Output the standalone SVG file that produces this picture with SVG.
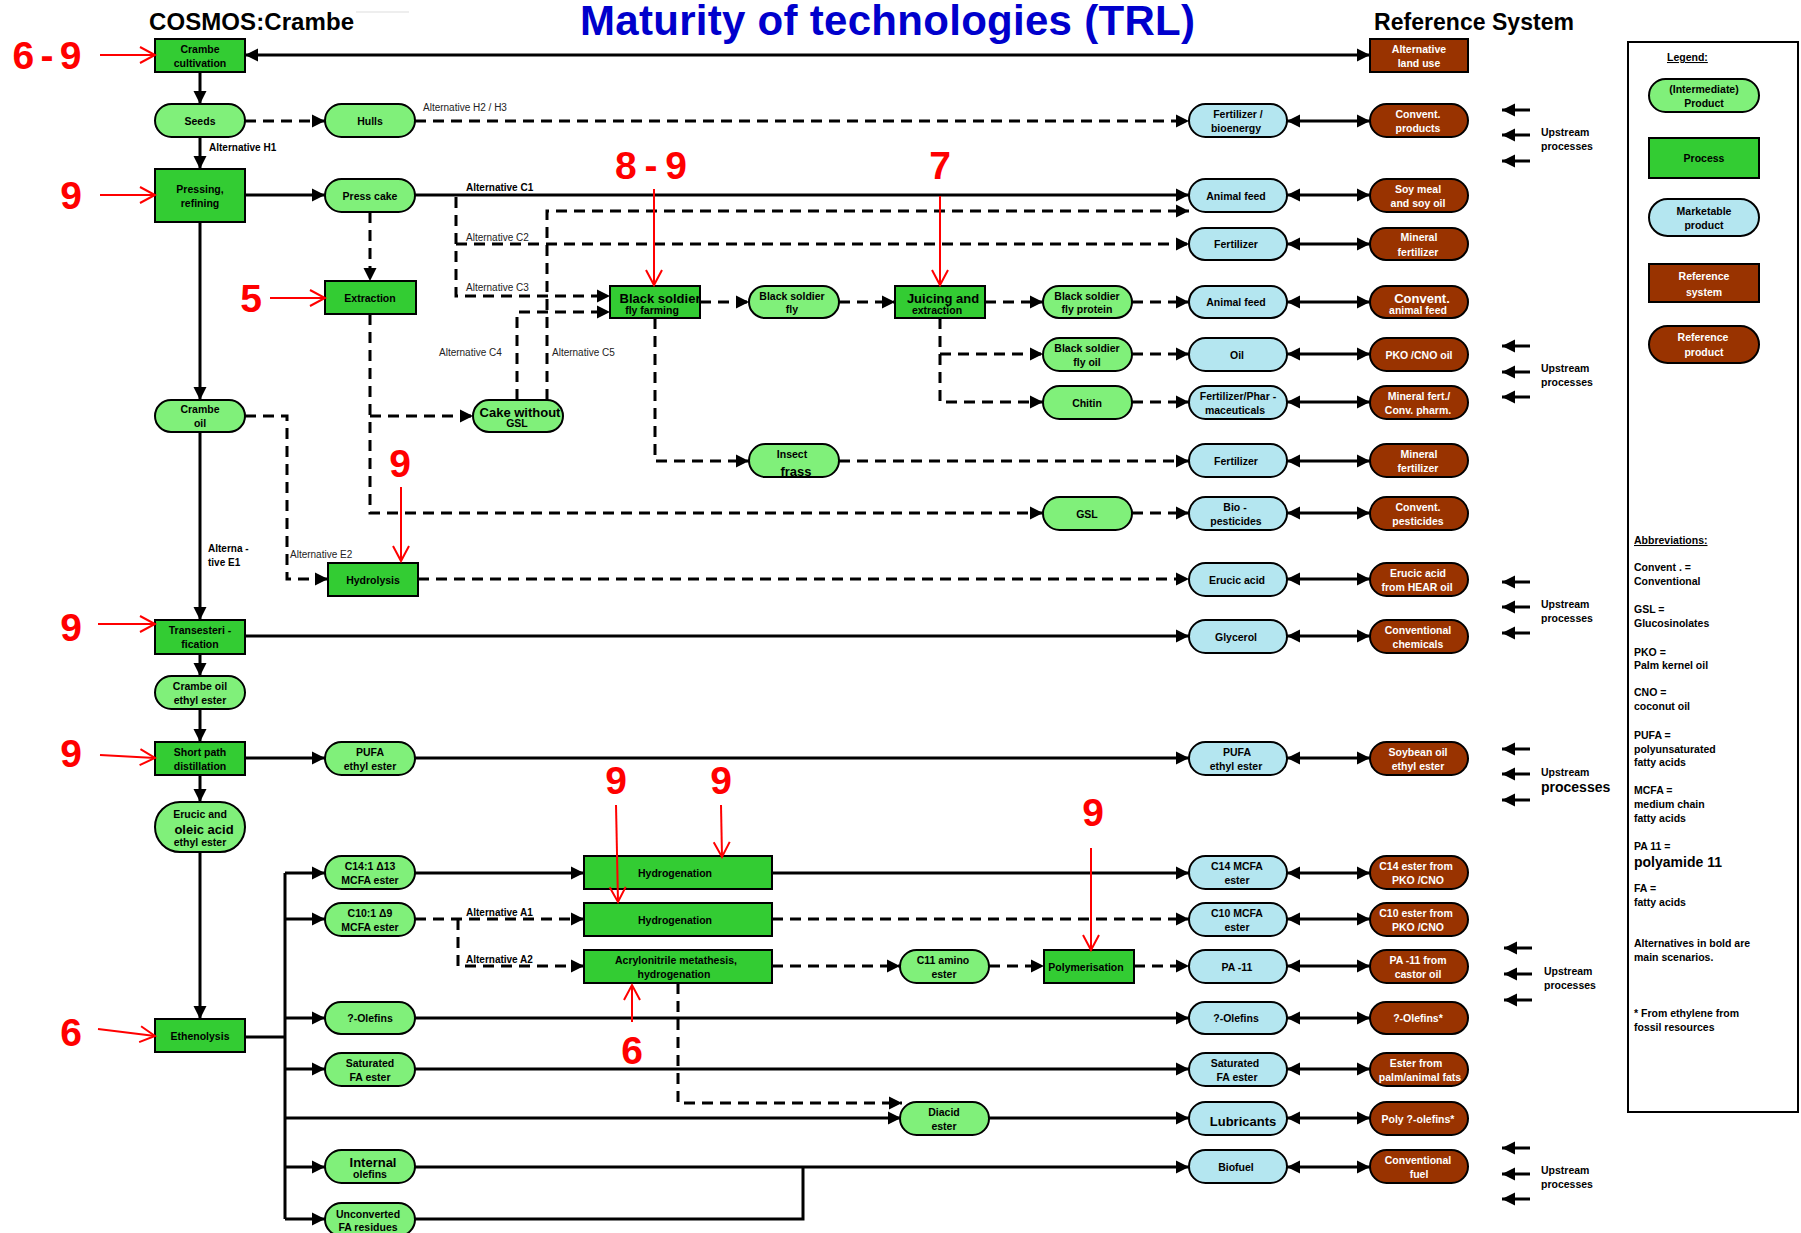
<svg xmlns="http://www.w3.org/2000/svg" width="1801" height="1233" viewBox="0 0 1801 1233">
<style>
.proc{fill:#33CC33;stroke:#000;stroke-width:2}
.prod{fill:#80F07A;stroke:#000;stroke-width:2}
.mkt{fill:#B4E6F0;stroke:#000;stroke-width:2}
.ref{fill:#993300;stroke:#000;stroke-width:2}
text{font-family:"Liberation Sans",Arial,sans-serif;font-weight:bold}
.t{font-size:10.5px;text-anchor:middle;fill:#000}
.tb{font-size:13px;text-anchor:middle;fill:#000}
.w{fill:#fff}
.ln{stroke:#000;stroke-width:3;fill:none}
.dl{stroke-dasharray:11 7}
.ea{marker-end:url(#arr)}
.da{marker-start:url(#arr);marker-end:url(#arr)}
.red{stroke:#f00;stroke-width:2;fill:none;marker-end:url(#rarr)}
.num{font-size:39px;fill:#f00;text-anchor:middle}
.alt{font-size:10px;font-weight:normal;fill:#222}
.altb{font-size:10px;fill:#000}
.ab{font-size:10.5px;fill:#000}
.up{font-size:10.5px;fill:#000}
.big{font-size:14px}
</style>
<defs>
<marker id="arr" markerUnits="userSpaceOnUse" markerWidth="14" markerHeight="14" refX="13" refY="6.5" orient="auto-start-reverse" overflow="visible"><path d="M0,0 L13,6.5 L0,13 z" fill="#000"/></marker>
<marker id="rarr" markerUnits="userSpaceOnUse" markerWidth="18" markerHeight="18" refX="15" refY="8" orient="auto" overflow="visible"><path d="M0,0 L15,8 L0,16" fill="none" stroke="#f00" stroke-width="2"/></marker>
</defs>
<rect width="1801" height="1233" fill="#fff"/>
<line x1="356" y1="12" x2="409" y2="12" stroke="#ddd" stroke-width="1"/>

<!-- Titles -->
<g id="titles">
<text x="149" y="30" font-size="24" fill="#000" textLength="205">COSMOS:Crambe</text>
<text x="580" y="35" font-size="42" fill="#0000CC" textLength="615">Maturity of technologies (TRL)</text>
<text x="1374" y="30" font-size="23" fill="#000" textLength="200">Reference System</text>
</g>

<!-- Connectors -->
<g id="connectors">
<path class="ln da" d="M245,55 H1370"/>
<path class="ln ea" d="M200,72 V104"/>
<path class="ln ea" d="M200,137 V169"/>
<path class="ln ea" d="M245,195 H325"/>
<path class="ln ea" d="M415,195 H1189"/>
<path class="ln ea" d="M200,222 V400"/>
<path class="ln ea" d="M200,432 V620"/>
<path class="ln ea" d="M245,636 H1189"/>
<path class="ln ea" d="M200,654 V676"/>
<path class="ln ea" d="M200,709 V742"/>
<path class="ln ea" d="M245,758 H325"/>
<path class="ln ea" d="M415,758 H1189"/>
<path class="ln ea" d="M200,775 V802"/>
<path class="ln ea" d="M200,852 V1019"/>
<path class="ln" d="M245,1037 H285"/>
<path class="ln" d="M285,873 V1219"/>
<path class="ln ea" d="M285,873 H325"/>
<path class="ln ea" d="M285,919 H325"/>
<path class="ln ea" d="M285,1018 H325"/>
<path class="ln ea" d="M285,1069 H325"/>
<path class="ln ea" d="M285,1167 H325"/>
<path class="ln ea" d="M285,1219 H325"/>
<path class="ln ea" d="M285,1118 H901"/>
<path class="ln ea" d="M415,873 H584"/>
<path class="ln ea" d="M772,873 H1189"/>
<path class="ln ea" d="M415,1018 H1189"/>
<path class="ln ea" d="M415,1069 H1189"/>
<path class="ln ea" d="M989,1118 H1189"/>
<path class="ln ea" d="M415,1167 H1189"/>
<path class="ln" d="M415,1219 H803 V1167"/>

<path class="ln dl ea" d="M245,121 H325"/>
<path class="ln dl ea" d="M415,121 H1189"/>
<path class="ln dl ea" d="M370,212 V281"/>
<path class="ln dl ea" d="M456,197 V296 H610"/>
<path class="ln dl ea" d="M456,244 H1189"/>
<path class="ln dl ea" d="M517,400 V312 H610"/>
<path class="ln dl ea" d="M547,400 V211 H1189"/>
<path class="ln dl ea" d="M370,314 V513 H1043"/>
<path class="ln dl ea" d="M370,416 H473"/>
<path class="ln dl ea" d="M700,302 H749"/>
<path class="ln dl ea" d="M839,302 H895"/>
<path class="ln dl ea" d="M985,302 H1043"/>
<path class="ln dl ea" d="M1132,302 H1189"/>
<path class="ln dl ea" d="M940,318 V402 H1043"/>
<path class="ln dl ea" d="M940,354 H1043"/>
<path class="ln dl ea" d="M1132,354 H1189"/>
<path class="ln dl ea" d="M1132,402 H1189"/>
<path class="ln dl ea" d="M655,318 V461 H749"/>
<path class="ln dl ea" d="M839,461 H1189"/>
<path class="ln dl ea" d="M1132,513 H1189"/>
<path class="ln dl ea" d="M245,416 H287 V579 H328"/>
<path class="ln dl ea" d="M418,579 H1189"/>
<path class="ln dl ea" d="M415,919 H584"/>
<path class="ln dl ea" d="M772,919 H1189"/>
<path class="ln dl ea" d="M458,919 V966 H584"/>
<path class="ln dl ea" d="M772,966 H900"/>
<path class="ln dl ea" d="M989,966 H1044"/>
<path class="ln dl ea" d="M1134,966 H1189"/>
<path class="ln dl ea" d="M678,983 V1103 H902"/>

<path class="ln da" d="M1287,121 H1370"/>
<path class="ln da" d="M1287,195 H1370"/>
<path class="ln da" d="M1287,244 H1370"/>
<path class="ln da" d="M1287,302 H1370"/>
<path class="ln da" d="M1287,354 H1370"/>
<path class="ln da" d="M1287,402 H1370"/>
<path class="ln da" d="M1287,461 H1370"/>
<path class="ln da" d="M1287,513 H1370"/>
<path class="ln da" d="M1287,579 H1370"/>
<path class="ln da" d="M1287,636 H1370"/>
<path class="ln da" d="M1287,758 H1370"/>
<path class="ln da" d="M1287,873 H1370"/>
<path class="ln da" d="M1287,919 H1370"/>
<path class="ln da" d="M1287,966 H1370"/>
<path class="ln da" d="M1287,1018 H1370"/>
<path class="ln da" d="M1287,1069 H1370"/>
<path class="ln da" d="M1287,1118 H1370"/>
<path class="ln da" d="M1287,1167 H1370"/>

<path class="ln ea" d="M1530,110 H1502"/><path class="ln ea" d="M1530,135 H1502"/><path class="ln ea" d="M1530,161 H1502"/>
<path class="ln ea" d="M1530,346 H1502"/><path class="ln ea" d="M1530,372 H1502"/><path class="ln ea" d="M1530,397 H1502"/>
<path class="ln ea" d="M1530,582 H1502"/><path class="ln ea" d="M1530,607 H1502"/><path class="ln ea" d="M1530,633 H1502"/>
<path class="ln ea" d="M1530,749 H1502"/><path class="ln ea" d="M1530,774 H1502"/><path class="ln ea" d="M1530,800 H1502"/>
<path class="ln ea" d="M1532,948 H1504"/><path class="ln ea" d="M1532,974 H1504"/><path class="ln ea" d="M1532,1000 H1504"/>
<path class="ln ea" d="M1530,1148 H1502"/><path class="ln ea" d="M1530,1174 H1502"/><path class="ln ea" d="M1530,1199 H1502"/>
</g>

<!-- Connector labels -->
<g id="labels">
<text class="alt" x="423" y="111">Alternative H2 / H3</text>
<text class="altb" x="209" y="151">Alternative H1</text>
<text class="altb" x="466" y="191">Alternative  C1</text>
<text class="alt" x="466" y="241">Alternative  C2</text>
<text class="alt" x="466" y="291">Alternative  C3</text>
<text class="alt" x="439" y="356">Alternative  C4</text>
<text class="alt" x="552" y="356">Alternative  C5</text>
<text class="alt" x="290" y="558">Alternative  E2</text>
<text class="altb" x="208" y="552">Alterna -</text>
<text class="altb" x="208" y="566">tive  E1</text>
<text class="altb" x="466" y="916">Alternative  A1</text>
<text class="altb" x="466" y="963">Alternative  A2</text>
<text class="up" x="1541" y="136">Upstream</text><text class="up" x="1541" y="150">processes</text>
<text class="up" x="1541" y="372">Upstream</text><text class="up" x="1541" y="386">processes</text>
<text class="up" x="1541" y="608">Upstream</text><text class="up" x="1541" y="622">processes</text>
<text class="up" x="1541" y="776">Upstream</text><text class="up big" x="1541" y="792">processes</text>
<text class="up" x="1544" y="975">Upstream</text><text class="up" x="1544" y="989">processes</text>
<text class="up" x="1541" y="1174">Upstream</text><text class="up" x="1541" y="1188">processes</text>
</g>

<!-- Left column -->
<g id="crambe-cultivation"><rect class="proc" x="155" y="39" width="90" height="33"/><text class="t" x="200" y="52.5">Crambe</text><text class="t" x="200" y="66.5">cultivation</text></g>
<g id="seeds"><rect class="prod" x="155" y="104" width="90" height="33" rx="16.5"/><text class="t" x="200" y="124.5">Seeds</text></g>
<g id="pressing"><rect class="proc" x="155" y="169" width="90" height="53"/><text class="t" x="200" y="192.5">Pressing,</text><text class="t" x="200" y="206.5">refining</text></g>
<g id="crambe-oil"><rect class="prod" x="155" y="400" width="90" height="32" rx="16"/><text class="t" x="200" y="413">Crambe</text><text class="t" x="200" y="427">oil</text></g>
<g id="transesterification"><rect class="proc" x="155" y="620" width="90" height="34"/><text class="t" x="200" y="634">Transesteri  -</text><text class="t" x="200" y="648">fication</text></g>
<g id="crambe-oil-ethyl-ester"><rect class="prod" x="155" y="676" width="90" height="33" rx="16.5"/><text class="t" x="200" y="689.5">Crambe  oil</text><text class="t" x="200" y="703.5">ethyl ester</text></g>
<g id="short-path"><rect class="proc" x="155" y="742" width="90" height="33"/><text class="t" x="200" y="755.5">Short path</text><text class="t" x="200" y="769.5">distillation</text></g>
<g id="erucic-oleic"><rect class="prod" x="155" y="802" width="90" height="50" rx="25"/><text class="t" x="200" y="818">Erucic  and</text><text class="tb" x="204" y="833.5">oleic acid</text><text class="t" x="200" y="845.5">ethyl ester</text></g>
<g id="ethenolysis"><rect class="proc" x="155" y="1019" width="90" height="33"/><text class="t" x="200" y="1039.5">Ethenolysis</text></g>

<!-- Second column -->
<g id="hulls"><rect class="prod" x="325" y="104" width="90" height="33" rx="16.5"/><text class="t" x="370" y="124.5">Hulls</text></g>
<g id="press-cake"><rect class="prod" x="325" y="179" width="90" height="33" rx="16.5"/><text class="t" x="370" y="199.5">Press cake</text></g>
<g id="extraction"><rect class="proc" x="325" y="281" width="91" height="33"/><text class="t" x="370" y="301.5">Extraction</text></g>
<g id="pufa-ethyl-ester"><rect class="prod" x="325" y="742" width="90" height="33" rx="16.5"/><text class="t" x="370" y="755.5">PUFA</text><text class="t" x="370" y="769.5">ethyl ester</text></g>
<g id="c14-1"><rect class="prod" x="325" y="856" width="90" height="33" rx="16.5"/><text class="t" x="370" y="869.5">C14:1  Δ13</text><text class="t" x="370" y="883.5">MCFA ester</text></g>
<g id="c10-1"><rect class="prod" x="325" y="903" width="90" height="33" rx="16.5"/><text class="t" x="370" y="916.5">C10:1  Δ9</text><text class="t" x="370" y="930.5">MCFA ester</text></g>
<g id="olefins"><rect class="prod" x="325" y="1002" width="90" height="32" rx="16"/><text class="t" x="370" y="1022">?-Olefins</text></g>
<g id="saturated-fa-ester"><rect class="prod" x="325" y="1053" width="90" height="33" rx="16.5"/><text class="t" x="370" y="1066.5">Saturated</text><text class="t" x="370" y="1080.5">FA ester</text></g>
<g id="internal-olefins"><rect class="prod" x="325" y="1150" width="90" height="33" rx="16.5"/><text class="tb" x="373" y="1166.5">Internal</text><text class="t" x="370" y="1178">olefins</text></g>
<g id="unconverted"><rect class="prod" x="325" y="1203" width="90" height="33" rx="16.5"/><text class="t" x="368" y="1218">Unconverted</text><text class="t" x="368" y="1231">FA residues</text></g>
<g id="hydrolysis"><rect class="proc" x="328" y="563" width="90" height="33"/><text class="t" x="373" y="583.5">Hydrolysis</text></g>
<g id="cake-without-gsl"><rect class="prod" x="473" y="400" width="90" height="32" rx="16"/><text class="tb" x="520" y="416.5">Cake without</text><text class="t" x="517" y="427">GSL</text></g>

<!-- Middle -->
<g id="bsf-farming"><rect class="proc" x="610" y="286" width="90" height="32"/><text class="tb" x="660" y="302.5">Black soldier</text><text class="t" x="652" y="314">fly farming</text></g>
<g id="bsf"><rect class="prod" x="749" y="286" width="90" height="32" rx="16"/><text class="t" x="792" y="300">Black soldier</text><text class="t" x="792" y="313">fly</text></g>
<g id="juicing"><rect class="proc" x="895" y="286" width="90" height="32"/><text class="tb" x="943" y="303">Juicing and</text><text class="t" x="937" y="314">extraction</text></g>
<g id="bsf-protein"><rect class="prod" x="1043" y="286" width="89" height="32" rx="16"/><text class="t" x="1087" y="300">Black soldier</text><text class="t" x="1087" y="313">fly protein</text></g>
<g id="bsf-oil"><rect class="prod" x="1043" y="338" width="89" height="33" rx="16.5"/><text class="t" x="1087" y="351.5">Black soldier</text><text class="t" x="1087" y="365.5">fly oil</text></g>
<g id="chitin"><rect class="prod" x="1043" y="386" width="89" height="33" rx="16.5"/><text class="t" x="1087" y="406.5">Chitin</text></g>
<g id="insect-frass"><rect class="prod" x="749" y="444" width="90" height="33" rx="16.5"/><text class="t" x="792" y="458">Insect</text><text class="tb" x="796" y="475.5">frass</text></g>
<g id="gsl"><rect class="prod" x="1043" y="497" width="89" height="33" rx="16.5"/><text class="t" x="1087" y="517.5">GSL</text></g>
<g id="hydrogenation-1"><rect class="proc" x="584" y="856" width="188" height="33"/><text class="t" x="675" y="876.5">Hydrogenation</text></g>
<g id="hydrogenation-2"><rect class="proc" x="584" y="903" width="188" height="33"/><text class="t" x="675" y="923.5">Hydrogenation</text></g>
<g id="acrylonitrile"><rect class="proc" x="584" y="950" width="188" height="33"/><text class="t" x="676" y="963.5">Acrylonitrile   metathesis,</text><text class="t" x="674" y="977.5">hydrogenation</text></g>
<g id="c11-amino-ester"><rect class="prod" x="900" y="950" width="89" height="33" rx="16.5"/><text class="t" x="943" y="963.5">C11  amino</text><text class="t" x="944" y="977.5">ester</text></g>
<g id="polymerisation"><rect class="proc" x="1044" y="950" width="90" height="33"/><text class="t" x="1086" y="970.5">Polymerisation</text></g>
<g id="diacid-ester"><rect class="prod" x="900" y="1102" width="89" height="33" rx="16.5"/><text class="t" x="944" y="1115.5">Diacid</text><text class="t" x="944" y="1129.5">ester</text></g>

<!-- Marketable products -->
<g id="m-fert-bio"><rect class="mkt" x="1189" y="104" width="98" height="33" rx="16.5"/><text class="t" x="1238" y="117.5">Fertilizer  /</text><text class="t" x="1236" y="131.5">bioenergy</text></g>
<g id="m-animal-feed-1"><rect class="mkt" x="1189" y="179" width="98" height="33" rx="16.5"/><text class="t" x="1236" y="199.5">Animal feed</text></g>
<g id="m-fertilizer-1"><rect class="mkt" x="1189" y="228" width="98" height="32" rx="16"/><text class="t" x="1236" y="248">Fertilizer</text></g>
<g id="m-animal-feed-2"><rect class="mkt" x="1189" y="286" width="98" height="32" rx="16"/><text class="t" x="1236" y="306">Animal feed</text></g>
<g id="m-oil"><rect class="mkt" x="1189" y="338" width="98" height="33" rx="16.5"/><text class="t" x="1237" y="358.5">Oil</text></g>
<g id="m-fert-pharma"><rect class="mkt" x="1189" y="386" width="98" height="33" rx="16.5"/><text class="t" x="1238" y="399.5">Fertilizer/Phar  -</text><text class="t" x="1235" y="413.5">maceuticals</text></g>
<g id="m-fertilizer-2"><rect class="mkt" x="1189" y="444" width="98" height="33" rx="16.5"/><text class="t" x="1236" y="464.5">Fertilizer</text></g>
<g id="m-biopesticides"><rect class="mkt" x="1189" y="497" width="98" height="33" rx="16.5"/><text class="t" x="1235" y="510.5">Bio -</text><text class="t" x="1236" y="524.5">pesticides</text></g>
<g id="m-erucic-acid"><rect class="mkt" x="1189" y="563" width="98" height="33" rx="16.5"/><text class="t" x="1237" y="583.5">Erucic  acid</text></g>
<g id="m-glycerol"><rect class="mkt" x="1189" y="620" width="98" height="33" rx="16.5"/><text class="t" x="1236" y="640.5">Glycerol</text></g>
<g id="m-pufa"><rect class="mkt" x="1189" y="742" width="98" height="33" rx="16.5"/><text class="t" x="1237" y="755.5">PUFA</text><text class="t" x="1236" y="769.5">ethyl ester</text></g>
<g id="m-c14"><rect class="mkt" x="1189" y="856" width="98" height="33" rx="16.5"/><text class="t" x="1237" y="869.5">C14 MCFA</text><text class="t" x="1237" y="883.5">ester</text></g>
<g id="m-c10"><rect class="mkt" x="1189" y="903" width="98" height="33" rx="16.5"/><text class="t" x="1237" y="916.5">C10 MCFA</text><text class="t" x="1237" y="930.5">ester</text></g>
<g id="m-pa11"><rect class="mkt" x="1189" y="950" width="98" height="33" rx="16.5"/><text class="t" x="1237" y="970.5">PA -11</text></g>
<g id="m-olefins"><rect class="mkt" x="1189" y="1002" width="98" height="32" rx="16"/><text class="t" x="1236" y="1022">?-Olefins</text></g>
<g id="m-saturated"><rect class="mkt" x="1189" y="1053" width="98" height="33" rx="16.5"/><text class="t" x="1235" y="1066.5">Saturated</text><text class="t" x="1237" y="1080.5">FA ester</text></g>
<g id="m-lubricants"><rect class="mkt" x="1189" y="1102" width="98" height="33" rx="16.5"/><text class="tb" x="1243" y="1126">Lubricants</text></g>
<g id="m-biofuel"><rect class="mkt" x="1189" y="1150" width="98" height="33" rx="16.5"/><text class="t" x="1236" y="1170.5">Biofuel</text></g>

<!-- Reference system -->
<g id="r-land-use"><rect class="ref" x="1370" y="39" width="98" height="33"/><text class="t w" x="1419" y="52.5">Alternative</text><text class="t w" x="1419" y="66.5">land use</text></g>
<g id="r-convent-products"><rect class="ref" x="1370" y="104" width="98" height="33" rx="16.5"/><text class="t w" x="1418" y="117.5">Convent.</text><text class="t w" x="1418" y="131.5">products</text></g>
<g id="r-soy"><rect class="ref" x="1370" y="179" width="98" height="33" rx="16.5"/><text class="t w" x="1418" y="192.5">Soy meal</text><text class="t w" x="1418" y="206.5">and soy oil</text></g>
<g id="r-mineral-1"><rect class="ref" x="1370" y="228" width="98" height="32" rx="16"/><text class="t w" x="1419" y="241">Mineral</text><text class="t w" x="1418" y="256">fertilizer</text></g>
<g id="r-animal-feed"><rect class="ref" x="1370" y="286" width="98" height="32" rx="16"/><text class="tb w" x="1422" y="303">Convent.</text><text class="t w" x="1418" y="314">animal feed</text></g>
<g id="r-pko"><rect class="ref" x="1370" y="338" width="98" height="33" rx="16.5"/><text class="t w" x="1419" y="358.5">PKO /CNO  oil</text></g>
<g id="r-mineral-pharm"><rect class="ref" x="1370" y="386" width="98" height="33" rx="16.5"/><text class="t w" x="1419" y="399.5">Mineral  fert./</text><text class="t w" x="1418" y="413.5">Conv. pharm.</text></g>
<g id="r-mineral-2"><rect class="ref" x="1370" y="444" width="98" height="33" rx="16.5"/><text class="t w" x="1419" y="457.5">Mineral</text><text class="t w" x="1418" y="471.5">fertilizer</text></g>
<g id="r-pesticides"><rect class="ref" x="1370" y="497" width="98" height="33" rx="16.5"/><text class="t w" x="1418" y="510.5">Convent.</text><text class="t w" x="1418" y="524.5">pesticides</text></g>
<g id="r-hear"><rect class="ref" x="1370" y="563" width="98" height="33" rx="16.5"/><text class="t w" x="1418" y="576.5">Erucic  acid</text><text class="t w" x="1417" y="590.5">from HEAR oil</text></g>
<g id="r-chemicals"><rect class="ref" x="1370" y="620" width="98" height="33" rx="16.5"/><text class="t w" x="1418" y="633.5">Conventional</text><text class="t w" x="1418" y="647.5">chemicals</text></g>
<g id="r-soybean"><rect class="ref" x="1370" y="742" width="98" height="33" rx="16.5"/><text class="t w" x="1418" y="755.5">Soybean oil</text><text class="t w" x="1418" y="769.5">ethyl ester</text></g>
<g id="r-c14"><rect class="ref" x="1370" y="856" width="98" height="33" rx="16.5"/><text class="t w" x="1416" y="869.5">C14 ester from</text><text class="t w" x="1418" y="883.5">PKO /CNO</text></g>
<g id="r-c10"><rect class="ref" x="1370" y="903" width="98" height="33" rx="16.5"/><text class="t w" x="1416" y="916.5">C10 ester from</text><text class="t w" x="1418" y="930.5">PKO /CNO</text></g>
<g id="r-pa11"><rect class="ref" x="1370" y="950" width="98" height="33" rx="16.5"/><text class="t w" x="1418" y="963.5">PA -11 from</text><text class="t w" x="1418" y="977.5">castor oil</text></g>
<g id="r-olefins"><rect class="ref" x="1370" y="1002" width="98" height="32" rx="16"/><text class="t w" x="1418" y="1022">?-Olefins*</text></g>
<g id="r-ester-palm"><rect class="ref" x="1370" y="1053" width="98" height="33" rx="16.5"/><text class="t w" x="1416" y="1066.5">Ester from</text><text class="t w" x="1420" y="1080.5">palm/animal fats</text></g>
<g id="r-poly-olefins"><rect class="ref" x="1370" y="1102" width="98" height="33" rx="16.5"/><text class="t w" x="1418" y="1122.5">Poly  ?-olefins*</text></g>
<g id="r-fuel"><rect class="ref" x="1370" y="1150" width="98" height="33" rx="16.5"/><text class="t w" x="1418" y="1163.5">Conventional</text><text class="t w" x="1419" y="1177.5">fuel</text></g>

<!-- Legend -->
<g id="legend">
<rect x="1628" y="42" width="170" height="1070" fill="#fff" stroke="#000" stroke-width="2"/>
<text class="ab" x="1667" y="61" text-decoration="underline">Legend: </text>
<rect class="prod" x="1649" y="79" width="110" height="33" rx="16.5"/><text class="t" x="1704" y="92.5">(Intermediate)</text><text class="t" x="1704" y="106.5">Product</text>
<rect class="proc" x="1649" y="138" width="110" height="40"/><text class="t" x="1704" y="162">Process</text>
<rect class="mkt" x="1649" y="199" width="110" height="37" rx="18.5"/><text class="t" x="1704" y="214.5">Marketable</text><text class="t" x="1704" y="228.5">product</text>
<rect class="ref" x="1649" y="264" width="110" height="38"/><text class="t w" x="1704" y="280">Reference</text><text class="t w" x="1704" y="296">system</text>
<rect class="ref" x="1649" y="326" width="110" height="37" rx="18.5"/><text class="t w" x="1703" y="341">Reference</text><text class="t w" x="1704" y="356">product</text>
<text class="ab" x="1634" y="544" text-decoration="underline">Abbreviations: </text>
<text class="ab" x="1634" y="571">Convent . =</text><text class="ab" x="1634" y="585">Conventional</text>
<text class="ab" x="1634" y="613">GSL =</text><text class="ab" x="1634" y="627">Glucosinolates</text>
<text class="ab" x="1634" y="656">PKO =</text><text class="ab" x="1634" y="669">Palm kernel oil</text>
<text class="ab" x="1634" y="696">CNO =</text><text class="ab" x="1634" y="710">coconut oil</text>
<text class="ab" x="1634" y="739">PUFA =</text><text class="ab" x="1634" y="753">polyunsaturated</text><text class="ab" x="1634" y="766">fatty acids</text>
<text class="ab" x="1634" y="794">MCFA =</text><text class="ab" x="1634" y="808">medium chain</text><text class="ab" x="1634" y="822">fatty acids</text>
<text class="ab" x="1634" y="850">PA 11 =</text><text class="ab big" x="1634" y="867">polyamide 11</text>
<text class="ab" x="1634" y="892">FA =</text><text class="ab" x="1634" y="906">fatty acids</text>
<text class="ab" x="1634" y="947">Alternatives in bold are</text><text class="ab" x="1634" y="961">main scenarios.</text>
<text class="ab" x="1634" y="1017">* From ethylene from</text><text class="ab" x="1634" y="1031">fossil resources</text>
</g>

<!-- TRL annotations -->
<g id="trl">
<text class="num" x="47" y="69" textLength="69">6-9</text><path class="red" d="M100,55 H155"/>
<text class="num" x="71" y="209">9</text><path class="red" d="M100,195 H155"/>
<text class="num" x="251" y="312">5</text><path class="red" d="M270,298 H325"/>
<text class="num" x="651" y="179" textLength="72">8-9</text><path class="red" d="M654,189 V285"/>
<text class="num" x="940" y="179">7</text><path class="red" d="M940,196 V285"/>
<text class="num" x="400" y="477">9</text><path class="red" d="M401,487 V561"/>
<text class="num" x="71" y="641">9</text><path class="red" d="M98,624 H155"/>
<text class="num" x="71" y="767">9</text><path class="red" d="M100,755 L155,758"/>
<text class="num" x="616" y="794">9</text><path class="red" d="M616,805 L618,902"/>
<text class="num" x="721" y="794">9</text><path class="red" d="M721,805 L722,857"/>
<text class="num" x="1093" y="826">9</text><path class="red" d="M1091,848 V950"/>
<text class="num" x="632" y="1064">6</text><path class="red" d="M632,1022 V985"/>
<text class="num" x="71" y="1046">6</text><path class="red" d="M98,1029 L155,1036"/>
</g>
</svg>
